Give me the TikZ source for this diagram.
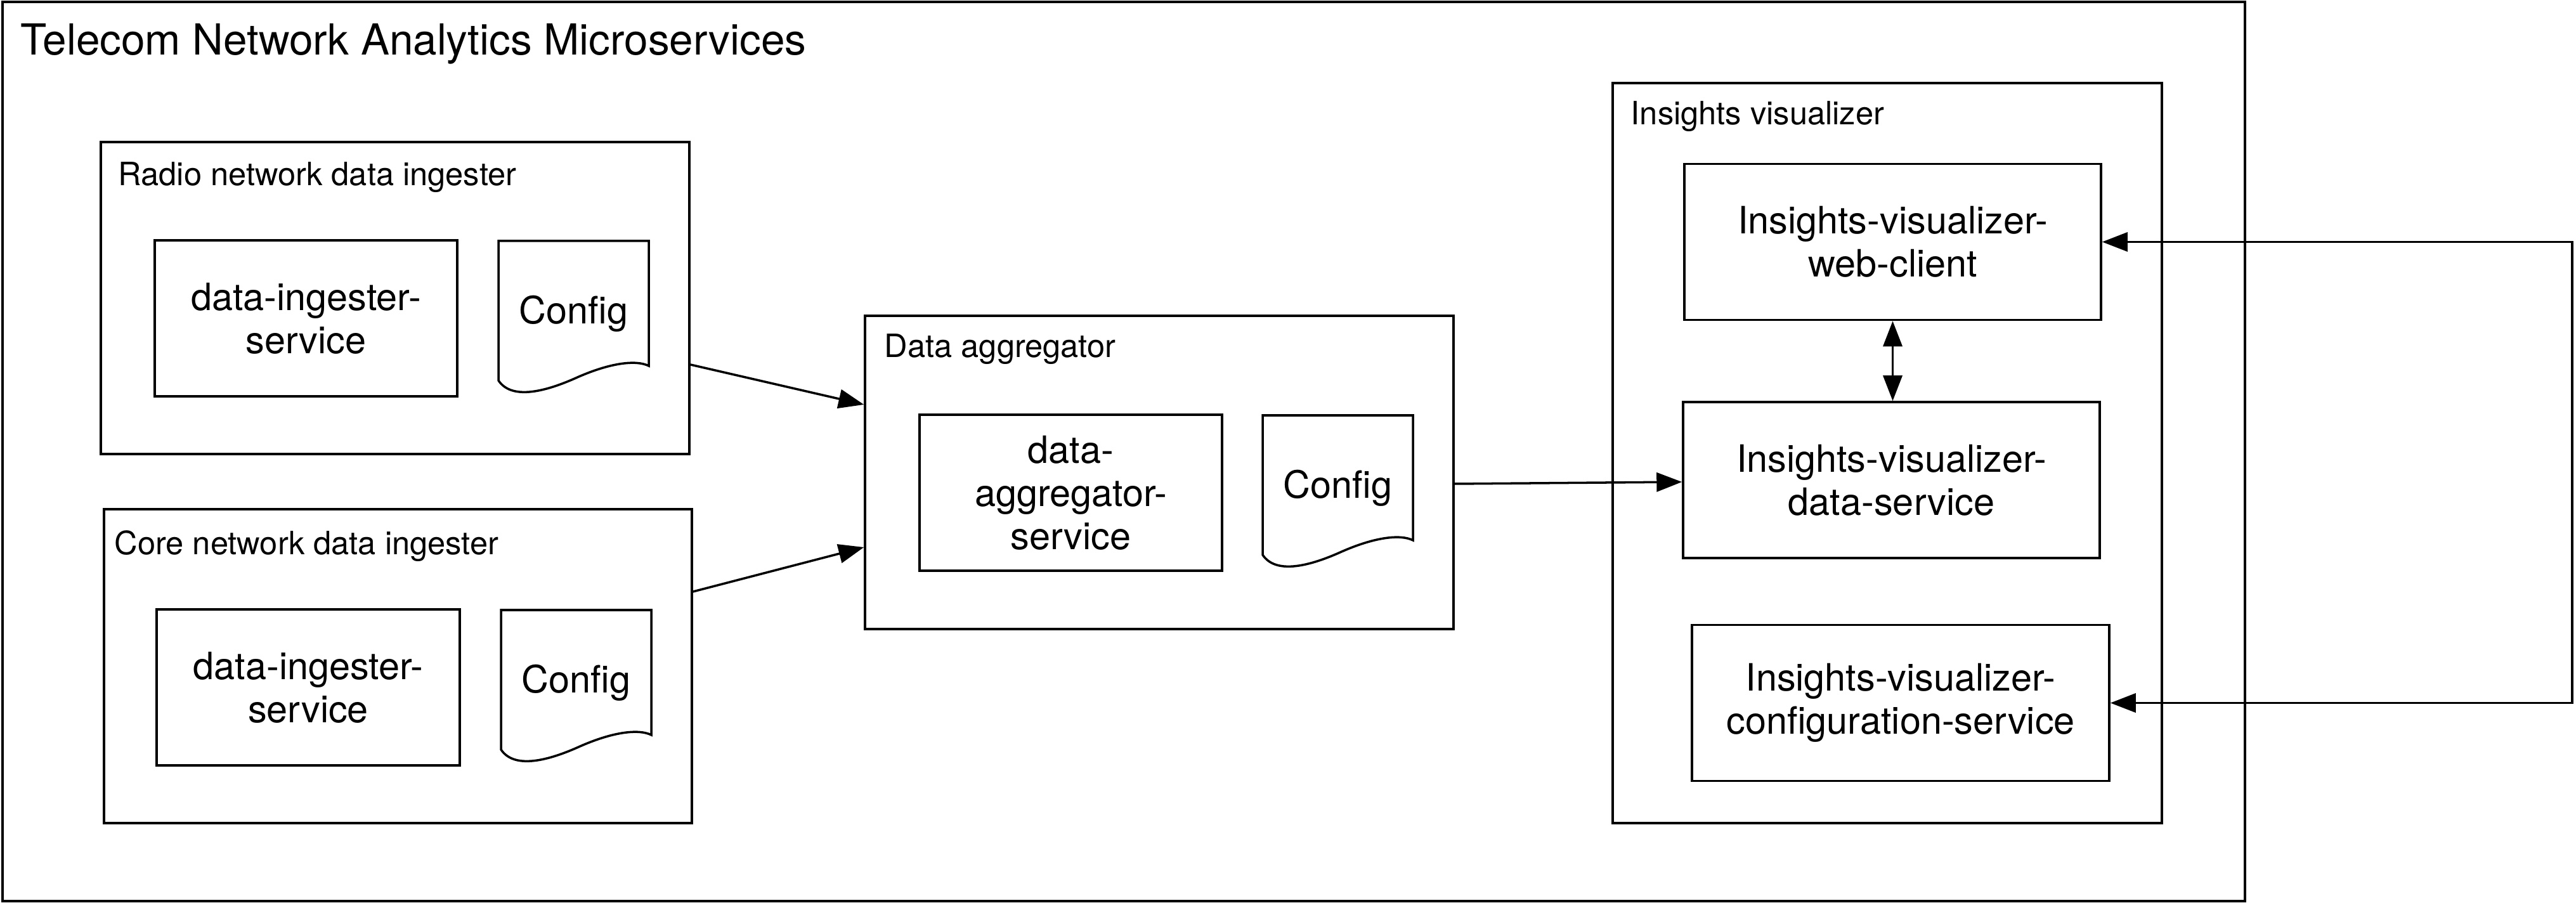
\documentclass[tikz,border=0pt]{standalone}
\usepackage{fontspec}
\setmainfont{TeX Gyre Heros}
\usetikzlibrary{arrows.meta,calc,positioning}

\tikzset{
	groupbox/.style={draw,inner sep=0pt},
	svcbox/.style={draw,inner sep=0pt,align=center,minimum width=#1,minimum height=2.46cm,font=\fontsize{16.9}{19.4}\selectfont},
	configdoc/.style={inner sep=0pt,outer sep=0pt,minimum width=2.37cm,minimum height=2.3cm,font=\fontsize{16.9}{19.4}\selectfont},
	grouplabel/.style={anchor=west,inner sep=0pt,font=\fontsize{14.4}{17}\selectfont},
}
% the wavy sheet around a config node
\newcommand{\docoutline}[1]{
	\draw (#1.north west) -- (#1.north east) -- ++(0,-1.97)
		.. controls +(-0.2,0.1) and +(0.55,0.25) .. ++(-1.17,-0.2)
		.. controls +(-0.5,-0.22) and +(0.2,-0.3) .. ++(-1.2,-0.03) -- cycle;
}

\begin{document}
\begin{tikzpicture}[>={Triangle[length=0.4cm,width=0.3cm]},line width=1pt]

	\useasboundingbox (0,0) rectangle (40.62,-14.24);

	\node[groupbox,minimum width=35.36cm,minimum height=14.18cm] (outer) at (17.72,-7.12) {};
	\node[grouplabel,font=\fontsize{19.2}{22}\selectfont] (outerlabel) at (0.31,-0.695) {Telecom Network Analytics Microservices};

	% radio side
	\node[groupbox,minimum width=9.28cm,minimum height=4.92cm] (radio) at (6.23,-4.70) {};
	\node[grouplabel] (radiolabel) at (1.85,-2.80) {Radio network data ingester};
	\node[svcbox=4.77cm] (radiosvc) at (4.825,-5.02) {data-ingester-\\service};
	\node[configdoc] (radiocfg) at (9.045,-4.95) {Config};
	\docoutline{radiocfg}

	% core side
	\node[groupbox,minimum width=9.27cm,minimum height=4.95cm] (core) at (6.275,-10.505) {};
	\node[grouplabel] (corelabel) at (1.79,-8.61) {Core network data ingester};
	\node[svcbox=4.78cm] (coresvc) at (4.86,-10.84) {data-ingester-\\service};
	\node[configdoc] (corecfg) at (9.085,-10.77) {Config};
	\docoutline{corecfg}

	% aggregator
	\node[groupbox,minimum width=9.28cm,minimum height=4.94cm] (aggr) at (18.28,-7.45) {};
	\node[grouplabel] (aggrlabel) at (13.93,-5.51) {Data aggregator};
	\node[svcbox=4.77cm] (aggrsvc) at (16.885,-7.77) {data-\\aggregator-\\service};
	\node[configdoc] (aggrcfg) at (21.095,-7.70) {Config};
	\docoutline{aggrcfg}

	% visualizer
	\node[groupbox,minimum width=8.66cm,minimum height=11.67cm] (insights) at (29.76,-7.145) {};
	\node[grouplabel] (insightslabel) at (25.70,-1.84) {Insights visualizer};
	\node[svcbox=6.57cm] (webclient) at (29.845,-3.815) {Insights-visualizer-\\web-client};
	\node[svcbox=6.57cm] (datasvc) at (29.825,-7.57) {Insights-visualizer-\\data-service};
	\node[svcbox=6.58cm] (configsvc) at (29.97,-11.085) {Insights-visualizer-\\configuration-service};

	\coordinate (rail) at (40.56,-7.5);

	\draw[->] ([yshift=-1.05cm]radio.east) -- ([yshift=1.07cm]aggr.west);
	\draw[->] ([yshift=1.175cm]core.east) -- ([yshift=-1.18cm]aggr.west);
	\draw[->] ([yshift=-0.18cm]aggr.east) -- ([yshift=-0.03cm]datasvc.west);
	\draw[<->] (webclient.south) -- (webclient.south |- datasvc.north);
	\draw[<->] (webclient.east) -- (webclient.east -| rail) -- (configsvc.east -| rail) -- (configsvc.east);

\end{tikzpicture}
\end{document}
